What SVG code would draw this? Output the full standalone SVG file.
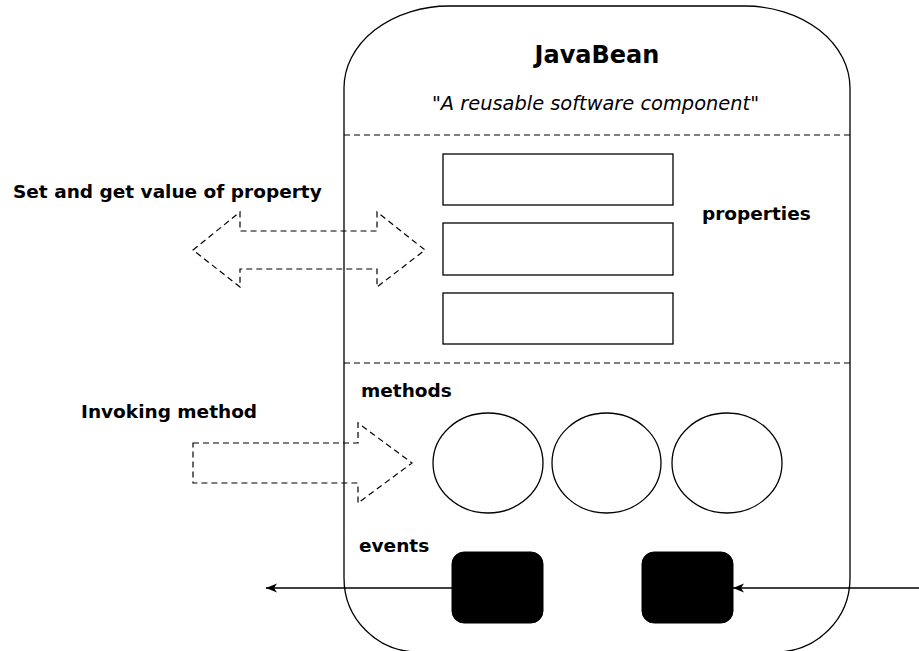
<svg xmlns="http://www.w3.org/2000/svg" width="919" height="651" viewBox="0 0 919 651">
<style>
.lbl{font-family:"DejaVu Sans",sans-serif;font-weight:bold;font-size:18.5px;fill:#000}
.ttl{font-family:"DejaVu Sans",sans-serif;font-weight:bold;font-size:24px;fill:#000}
.sub{font-family:"DejaVu Sans",sans-serif;font-style:italic;font-size:19.4px;fill:#000}
.ln{fill:none;stroke:#000;stroke-width:1.3}
.dash{fill:none;stroke:#000;stroke-width:1.2;stroke-dasharray:6 4}
.box{fill:#fff;stroke:#000;stroke-width:1.3}
.blk{fill:#000;stroke:#000;stroke-width:1}
</style>
<defs>
<marker id="ah" markerUnits="userSpaceOnUse" markerWidth="12" markerHeight="10" refX="11" refY="4.5" orient="auto">
<path d="M0,0 L11,4.5 L0,9 L3,4.5 Z" fill="#000"/>
</marker>
</defs>
<rect width="919" height="651" fill="#fff"/>
<g id="javabean">
<path class="ln" d="M344,88 A105,82 0 0 1 449,6 L745,6 A105,82 0 0 1 850,88 L850,578 A74,74 0 0 1 776,652 L418,652 A74,74 0 0 1 344,578 Z"/>
<text class="ttl" x="597" y="63" text-anchor="middle">JavaBean</text>
<text class="sub" x="595.5" y="110" text-anchor="middle">"A reusable software component"</text>
<line class="dash" x1="344" y1="135" x2="850" y2="135"/>
<line class="dash" x1="344" y1="363" x2="850" y2="363"/>
</g>
<g id="properties">
<rect class="box" x="443" y="154" width="230" height="51"/>
<rect class="box" x="443" y="223" width="230" height="52"/>
<rect class="box" x="443" y="293" width="230" height="51"/>
<text class="lbl" x="702" y="220">properties</text>
</g>
<g id="methods">
<text class="lbl" x="361" y="397">methods</text>
<ellipse class="ln" cx="488" cy="463" rx="55" ry="50"/>
<ellipse class="ln" cx="606.5" cy="463" rx="54.5" ry="50"/>
<ellipse class="ln" cx="727" cy="463" rx="55" ry="50"/>
</g>
<g id="events">
<text class="lbl" x="359" y="552">events</text>
<rect class="blk" x="452" y="552" width="91" height="71" rx="12"/>
<rect class="blk" x="642" y="552" width="91" height="71" rx="12"/>
</g>
<g id="set-get">
<text class="lbl" x="13" y="198">Set and get value of property</text>
<polygon class="dash" points="193,250 240,212 240,231 377,231 377,212 425,250 377,287 377,269 240,269 240,287"/>
</g>
<g id="invoking">
<text class="lbl" x="81" y="418">Invoking method</text>
<polygon class="dash" points="193,443 358,443 358,423 412,463 358,503 358,483 193,483"/>
</g>
<g id="connectors">
<line class="ln" x1="452" y1="588" x2="266" y2="588" marker-end="url(#ah)"/>
<line class="ln" x1="919" y1="588" x2="733" y2="588" marker-end="url(#ah)"/>
</g>
</svg>
